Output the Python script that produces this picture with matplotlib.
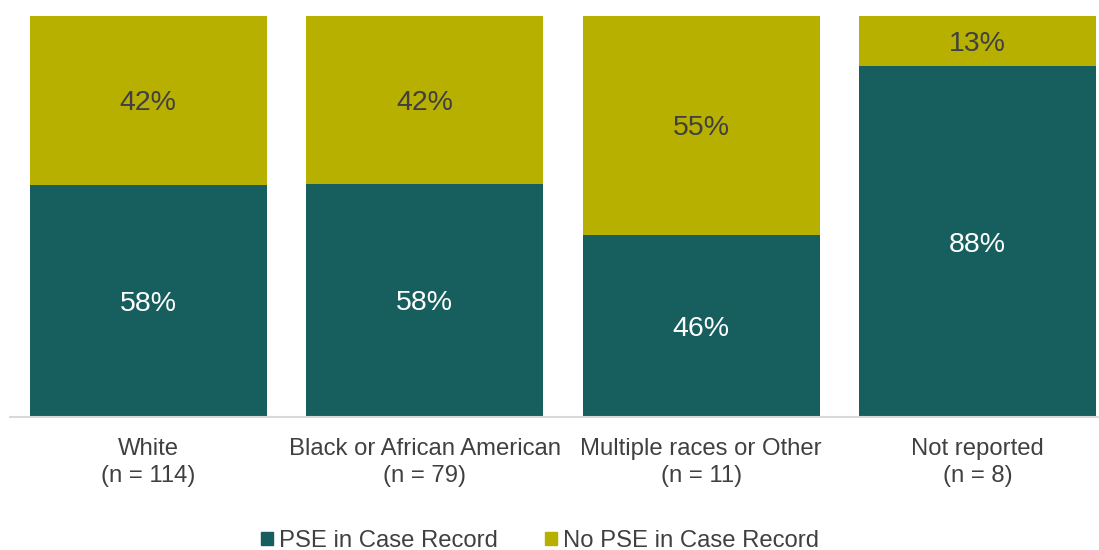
import matplotlib
matplotlib.use("Agg")
import matplotlib.pyplot as plt
from matplotlib.patches import Patch

categories = ["White\n(n = 114)", "Black or African American\n(n = 79)",
              "Multiple races or Other\n(n = 11)", "Not reported\n(n = 8)"]
pse = [57.9, 58.2, 45.5, 87.5]
no_pse = [42.1, 41.8, 54.5, 12.5]
pse_labels = ["58%", "58%", "46%", "88%"]
no_pse_labels = ["42%", "42%", "55%", "13%"]

teal = "#175e5e"
olive = "#b8b000"

plt.rcParams['font.family'] = ['Liberation Sans', 'DejaVu Sans']

fig = plt.figure(figsize=(10.99, 5.5), dpi=100)
ax = fig.add_axes([10/1099, 1-417/550, 1089/1099, 401/550])

x = list(range(len(categories)))
w = 0.857
ax.bar(x, pse, width=w, color=teal)
ax.bar(x, no_pse, width=w, bottom=pse, color=olive)

for i in x:
    ax.text(i, pse[i]/2, pse_labels[i], ha='center', va='center_baseline', color='white', fontsize=20.5)
    ax.text(i, pse[i] + no_pse[i]/2, no_pse_labels[i], ha='center', va='center_baseline', color='#404040', fontsize=20.5)

ax.set_xlim(-0.5, 3.5 - (1116-1099)/276.7)
ax.set_ylim(0, 100)
ax.set_yticks([])
ax.set_xticks(x)
ax.set_xticklabels(categories, fontsize=17.2, color='#404040', linespacing=1.3)
ax.tick_params(axis='x', length=0, pad=15)
for s in ['top', 'right', 'left']:
    ax.spines[s].set_visible(False)
ax.spines['bottom'].set_color('#d9d9d9')
ax.spines['bottom'].set_linewidth(1.5)

handles = [Patch(color=teal, label='PSE in Case Record'), Patch(color=olive, label='No PSE in Case Record')]
fig.legend(handles=handles, loc='center', bbox_to_anchor=(540/1099, 1-541/550), ncol=2,
           frameon=False, fontsize=17.2, handlelength=0.5, handleheight=0.5, handletextpad=0.25,
           columnspacing=2.0, labelcolor='#404040')

fig.savefig("out.png", dpi=100)
